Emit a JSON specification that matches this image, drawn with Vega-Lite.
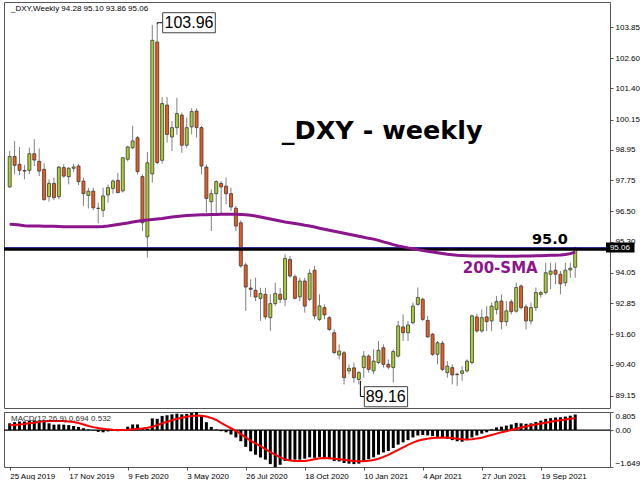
{
"$schema":"https://vega.github.io/schema/vega-lite/v6.json",
"padding":{"left":2,"top":1,"right":0,"bottom":0},
"background":"white",
"spacing":1,
"config":{"view":{"stroke":"#555","strokeWidth":1},"axis":{"labelFont":"Liberation Sans","labelFontSize":8,"labelColor":"#000","tickColor":"#555","grid":false,"domain":false}},
"datasets":{"bars":[
{"d":"2019-08-25","o":97.48,"h":98.91,"l":97.45,"c":98.69,"sma":95.99,"hist":0.30,"sig":0.21},
{"d":"2019-09-01","o":98.69,"h":99.31,"l":97.98,"c":98.34,"sma":95.98,"hist":0.35,"sig":0.23},
{"d":"2019-09-08","o":98.38,"h":99.07,"l":97.95,"c":98.14,"sma":95.96,"hist":0.38,"sig":0.25},
{"d":"2019-09-15","o":98.13,"h":98.35,"l":97.78,"c":98.11,"sma":95.93,"hist":0.38,"sig":0.27},
{"d":"2019-09-22","o":98.14,"h":99.04,"l":97.98,"c":98.80,"sma":95.92,"hist":0.42,"sig":0.30},
{"d":"2019-09-29","o":98.80,"h":99.38,"l":98.31,"c":98.55,"sma":95.92,"hist":0.43,"sig":0.33},
{"d":"2019-10-06","o":98.50,"h":99.01,"l":97.91,"c":98.11,"sma":95.92,"hist":0.42,"sig":0.37},
{"d":"2019-10-13","o":98.18,"h":98.42,"l":96.92,"c":96.98,"sma":95.91,"hist":0.36,"sig":0.39},
{"d":"2019-10-20","o":97.09,"h":97.78,"l":96.89,"c":97.62,"sma":95.91,"hist":0.30,"sig":0.40},
{"d":"2019-10-27","o":97.62,"h":97.85,"l":96.95,"c":97.05,"sma":95.91,"hist":0.24,"sig":0.40},
{"d":"2019-11-03","o":97.09,"h":98.31,"l":96.99,"c":98.27,"sma":95.90,"hist":0.25,"sig":0.40},
{"d":"2019-11-10","o":98.25,"h":98.38,"l":97.85,"c":97.91,"sma":95.89,"hist":0.24,"sig":0.40},
{"d":"2019-11-17","o":97.89,"h":98.27,"l":97.58,"c":98.22,"sma":95.89,"hist":0.22,"sig":0.38},
{"d":"2019-11-24","o":98.22,"h":98.40,"l":98.08,"c":98.27,"sma":95.89,"hist":0.18,"sig":0.36},
{"d":"2019-12-01","o":98.31,"h":98.40,"l":97.55,"c":97.69,"sma":95.89,"hist":0.14,"sig":0.31},
{"d":"2019-12-08","o":97.71,"h":97.85,"l":96.72,"c":97.21,"sma":95.89,"hist":0.08,"sig":0.25},
{"d":"2019-12-15","o":97.14,"h":97.45,"l":96.62,"c":97.31,"sma":95.89,"hist":0.03,"sig":0.18},
{"d":"2019-12-22","o":97.31,"h":97.45,"l":96.55,"c":96.65,"sma":95.89,"hist":-0.02,"sig":0.13},
{"d":"2019-12-29","o":96.63,"h":96.85,"l":96.03,"c":96.62,"sma":95.89,"hist":-0.08,"sig":0.09},
{"d":"2020-01-05","o":96.55,"h":97.45,"l":96.28,"c":97.12,"sma":95.90,"hist":-0.10,"sig":0.06},
{"d":"2020-01-12","o":97.16,"h":97.58,"l":96.85,"c":97.45,"sma":95.92,"hist":-0.06,"sig":0.03},
{"d":"2020-01-19","o":97.42,"h":97.78,"l":97.21,"c":97.71,"sma":95.95,"hist":-0.04,"sig":0.01},
{"d":"2020-01-26","o":97.74,"h":98.04,"l":97.25,"c":97.25,"sma":95.98,"hist":-0.05,"sig":0.0},
{"d":"2020-02-02","o":97.32,"h":98.67,"l":97.25,"c":98.64,"sma":96.01,"hist":0.04,"sig":0.0},
{"d":"2020-02-09","o":98.58,"h":99.12,"l":98.50,"c":99.07,"sma":96.04,"hist":0.15,"sig":0.01},
{"d":"2020-02-16","o":99.04,"h":99.91,"l":98.98,"c":99.31,"sma":96.08,"hist":0.25,"sig":0.03},
{"d":"2020-02-23","o":99.44,"h":99.51,"l":97.98,"c":98.09,"sma":96.11,"hist":0.25,"sig":0.05},
{"d":"2020-03-01","o":97.89,"h":97.98,"l":95.72,"c":96.05,"sma":96.14,"hist":0.08,"sig":0.07},
{"d":"2020-03-08","o":95.49,"h":98.87,"l":94.66,"c":98.44,"sma":96.16,"hist":0.05,"sig":0.10},
{"d":"2020-03-15","o":98.00,"h":103.93,"l":97.65,"c":103.32,"sma":96.18,"hist":0.52,"sig":0.15},
{"d":"2020-03-22","o":103.25,"h":103.96,"l":98.38,"c":98.45,"sma":96.20,"hist":0.50,"sig":0.22},
{"d":"2020-03-29","o":98.54,"h":101.06,"l":98.41,"c":100.80,"sma":96.22,"hist":0.63,"sig":0.30},
{"d":"2020-04-05","o":100.74,"h":101.06,"l":99.24,"c":99.57,"sma":96.25,"hist":0.66,"sig":0.37},
{"d":"2020-04-12","o":99.47,"h":100.10,"l":98.91,"c":99.84,"sma":96.28,"hist":0.70,"sig":0.44},
{"d":"2020-04-19","o":99.84,"h":101.03,"l":99.55,"c":100.40,"sma":96.30,"hist":0.73,"sig":0.50},
{"d":"2020-04-26","o":100.34,"h":100.44,"l":98.84,"c":99.14,"sma":96.32,"hist":0.70,"sig":0.55},
{"d":"2020-05-03","o":99.14,"h":100.24,"l":99.04,"c":99.84,"sma":96.34,"hist":0.72,"sig":0.59},
{"d":"2020-05-10","o":99.87,"h":100.61,"l":99.57,"c":100.48,"sma":96.35,"hist":0.77,"sig":0.63},
{"d":"2020-05-17","o":100.50,"h":100.61,"l":99.44,"c":99.84,"sma":96.36,"hist":0.805,"sig":0.65},
{"d":"2020-05-24","o":99.84,"h":99.91,"l":97.98,"c":98.31,"sma":96.37,"hist":0.62,"sig":0.64},
{"d":"2020-05-31","o":98.27,"h":98.38,"l":96.45,"c":97.02,"sma":96.37,"hist":0.35,"sig":0.60},
{"d":"2020-06-07","o":96.89,"h":97.38,"l":95.72,"c":97.21,"sma":96.38,"hist":0.14,"sig":0.54},
{"d":"2020-06-14","o":97.21,"h":97.74,"l":96.41,"c":97.69,"sma":96.38,"hist":0.03,"sig":0.45},
{"d":"2020-06-21","o":97.62,"h":97.71,"l":96.39,"c":97.48,"sma":96.39,"hist":-0.05,"sig":0.32},
{"d":"2020-06-28","o":97.51,"h":97.85,"l":96.79,"c":97.21,"sma":96.39,"hist":-0.10,"sig":0.20},
{"d":"2020-07-05","o":97.21,"h":97.45,"l":96.52,"c":96.68,"sma":96.39,"hist":-0.20,"sig":0.08},
{"d":"2020-07-12","o":96.63,"h":96.72,"l":95.72,"c":95.92,"sma":96.39,"hist":-0.33,"sig":-0.04},
{"d":"2020-07-19","o":96.05,"h":96.15,"l":94.26,"c":94.33,"sma":96.38,"hist":-0.50,"sig":-0.18},
{"d":"2020-07-26","o":94.37,"h":94.46,"l":92.54,"c":93.49,"sma":96.37,"hist":-0.75,"sig":-0.33},
{"d":"2020-08-02","o":93.45,"h":93.80,"l":93.10,"c":93.40,"sma":96.35,"hist":-0.95,"sig":-0.48},
{"d":"2020-08-09","o":93.36,"h":93.86,"l":92.93,"c":93.09,"sma":96.32,"hist":-1.10,"sig":-0.60},
{"d":"2020-08-16","o":93.04,"h":93.46,"l":92.14,"c":93.23,"sma":96.28,"hist":-1.22,"sig":-0.72},
{"d":"2020-08-23","o":93.20,"h":93.46,"l":92.20,"c":92.30,"sma":96.24,"hist":-1.32,"sig":-0.85},
{"d":"2020-08-30","o":92.27,"h":93.20,"l":91.74,"c":92.83,"sma":96.20,"hist":-1.52,"sig":-0.98},
{"d":"2020-09-06","o":92.83,"h":93.66,"l":92.74,"c":93.23,"sma":96.16,"hist":-1.649,"sig":-1.10},
{"d":"2020-09-13","o":93.20,"h":93.45,"l":92.85,"c":93.00,"sma":96.12,"hist":-1.55,"sig":-1.22},
{"d":"2020-09-20","o":93.00,"h":94.79,"l":92.73,"c":94.63,"sma":96.08,"hist":-1.38,"sig":-1.31},
{"d":"2020-09-27","o":94.59,"h":94.73,"l":93.86,"c":93.93,"sma":96.05,"hist":-1.35,"sig":-1.36},
{"d":"2020-10-04","o":93.90,"h":93.99,"l":93.00,"c":93.04,"sma":96.02,"hist":-1.32,"sig":-1.38},
{"d":"2020-10-11","o":93.10,"h":93.86,"l":92.93,"c":93.73,"sma":95.99,"hist":-1.32,"sig":-1.38},
{"d":"2020-10-18","o":93.73,"h":93.86,"l":92.47,"c":92.73,"sma":95.95,"hist":-1.28,"sig":-1.38},
{"d":"2020-10-25","o":93.00,"h":94.20,"l":92.93,"c":94.04,"sma":95.92,"hist":-1.22,"sig":-1.35},
{"d":"2020-11-01","o":94.16,"h":94.33,"l":92.20,"c":92.34,"sma":95.88,"hist":-1.24,"sig":-1.30},
{"d":"2020-11-08","o":92.20,"h":93.20,"l":92.14,"c":92.74,"sma":95.83,"hist":-1.20,"sig":-1.26},
{"d":"2020-11-15","o":92.67,"h":92.80,"l":92.20,"c":92.38,"sma":95.79,"hist":-1.24,"sig":-1.25},
{"d":"2020-11-22","o":92.27,"h":92.34,"l":91.74,"c":91.80,"sma":95.75,"hist":-1.30,"sig":-1.26},
{"d":"2020-11-29","o":91.67,"h":91.80,"l":90.81,"c":90.88,"sma":95.71,"hist":-1.38,"sig":-1.28},
{"d":"2020-12-06","o":90.78,"h":91.21,"l":90.61,"c":90.94,"sma":95.67,"hist":-1.40,"sig":-1.30},
{"d":"2020-12-13","o":90.87,"h":90.94,"l":89.61,"c":89.88,"sma":95.63,"hist":-1.47,"sig":-1.33},
{"d":"2020-12-20","o":90.15,"h":90.41,"l":90.01,"c":90.25,"sma":95.59,"hist":-1.50,"sig":-1.36},
{"d":"2020-12-27","o":90.27,"h":90.48,"l":89.68,"c":89.88,"sma":95.55,"hist":-1.52,"sig":-1.38},
{"d":"2021-01-03","o":89.81,"h":90.14,"l":89.61,"c":90.08,"sma":95.51,"hist":-1.50,"sig":-1.39},
{"d":"2021-01-10","o":90.28,"h":90.94,"l":89.88,"c":90.74,"sma":95.47,"hist":-1.38,"sig":-1.39},
{"d":"2021-01-17","o":90.74,"h":90.81,"l":90.08,"c":90.21,"sma":95.43,"hist":-1.30,"sig":-1.37},
{"d":"2021-01-24","o":90.15,"h":91.01,"l":90.01,"c":90.54,"sma":95.40,"hist":-1.22,"sig":-1.34},
{"d":"2021-01-31","o":90.48,"h":91.34,"l":90.41,"c":90.97,"sma":95.35,"hist":-1.10,"sig":-1.28},
{"d":"2021-02-07","o":91.07,"h":91.21,"l":90.28,"c":90.41,"sma":95.29,"hist":-1.00,"sig":-1.20},
{"d":"2021-02-14","o":90.41,"h":90.61,"l":90.21,"c":90.30,"sma":95.24,"hist":-0.93,"sig":-1.11},
{"d":"2021-02-21","o":90.28,"h":91.01,"l":89.68,"c":90.92,"sma":95.18,"hist":-0.80,"sig":-1.00},
{"d":"2021-02-28","o":90.74,"h":92.14,"l":90.68,"c":91.94,"sma":95.13,"hist":-0.65,"sig":-0.88},
{"d":"2021-03-07","o":91.90,"h":92.40,"l":91.34,"c":91.67,"sma":95.09,"hist":-0.55,"sig":-0.77},
{"d":"2021-03-14","o":91.67,"h":92.14,"l":91.34,"c":91.98,"sma":95.05,"hist":-0.45,"sig":-0.66},
{"d":"2021-03-21","o":92.07,"h":92.87,"l":92.00,"c":92.73,"sma":95.02,"hist":-0.33,"sig":-0.56},
{"d":"2021-03-28","o":92.80,"h":93.47,"l":92.73,"c":93.07,"sma":94.98,"hist":-0.24,"sig":-0.48},
{"d":"2021-04-04","o":93.00,"h":93.07,"l":92.14,"c":92.20,"sma":94.95,"hist":-0.22,"sig":-0.42},
{"d":"2021-04-11","o":92.16,"h":92.34,"l":91.47,"c":91.50,"sma":94.92,"hist":-0.24,"sig":-0.39},
{"d":"2021-04-18","o":91.61,"h":91.67,"l":90.74,"c":90.81,"sma":94.89,"hist":-0.27,"sig":-0.36},
{"d":"2021-04-25","o":90.81,"h":91.34,"l":90.41,"c":91.27,"sma":94.86,"hist":-0.30,"sig":-0.34},
{"d":"2021-05-02","o":91.25,"h":91.34,"l":90.14,"c":90.21,"sma":94.83,"hist":-0.35,"sig":-0.33},
{"d":"2021-05-09","o":90.08,"h":90.54,"l":89.88,"c":90.34,"sma":94.80,"hist":-0.40,"sig":-0.34},
{"d":"2021-05-16","o":90.28,"h":90.41,"l":89.61,"c":89.99,"sma":94.78,"hist":-0.45,"sig":-0.36},
{"d":"2021-05-23","o":90.00,"h":90.08,"l":89.55,"c":90.02,"sma":94.76,"hist":-0.50,"sig":-0.39},
{"d":"2021-05-30","o":90.05,"h":90.34,"l":89.75,"c":90.15,"sma":94.75,"hist":-0.52,"sig":-0.41},
{"d":"2021-06-06","o":90.15,"h":90.61,"l":90.08,"c":90.54,"sma":94.74,"hist":-0.45,"sig":-0.42},
{"d":"2021-06-13","o":90.48,"h":92.40,"l":90.41,"c":92.34,"sma":94.73,"hist":-0.33,"sig":-0.41},
{"d":"2021-06-20","o":92.30,"h":92.43,"l":91.67,"c":91.74,"sma":94.73,"hist":-0.24,"sig":-0.38},
{"d":"2021-06-27","o":91.74,"h":92.60,"l":91.67,"c":92.27,"sma":94.73,"hist":-0.16,"sig":-0.34},
{"d":"2021-07-04","o":92.30,"h":92.73,"l":91.74,"c":92.11,"sma":94.73,"hist":-0.10,"sig":-0.28},
{"d":"2021-07-11","o":92.14,"h":92.87,"l":91.74,"c":92.73,"sma":94.73,"hist":0.03,"sig":-0.22},
{"d":"2021-07-18","o":92.60,"h":93.13,"l":92.40,"c":92.91,"sma":94.72,"hist":0.12,"sig":-0.16},
{"d":"2021-07-25","o":92.93,"h":93.20,"l":91.80,"c":92.11,"sma":94.72,"hist":0.15,"sig":-0.10},
{"d":"2021-08-01","o":92.11,"h":92.93,"l":91.94,"c":92.54,"sma":94.72,"hist":0.20,"sig":-0.05},
{"d":"2021-08-08","o":92.90,"h":93.00,"l":92.40,"c":92.51,"sma":94.72,"hist":0.25,"sig":0.0},
{"d":"2021-08-15","o":92.53,"h":93.67,"l":92.47,"c":93.47,"sma":94.72,"hist":0.32,"sig":0.06},
{"d":"2021-08-22","o":93.53,"h":93.60,"l":92.60,"c":92.67,"sma":94.73,"hist":0.30,"sig":0.11},
{"d":"2021-08-29","o":92.70,"h":92.80,"l":91.80,"c":92.14,"sma":94.73,"hist":0.28,"sig":0.16},
{"d":"2021-09-05","o":92.14,"h":92.87,"l":92.00,"c":92.67,"sma":94.73,"hist":0.30,"sig":0.21},
{"d":"2021-09-12","o":92.67,"h":93.47,"l":92.54,"c":93.27,"sma":94.74,"hist":0.36,"sig":0.25},
{"d":"2021-09-19","o":93.20,"h":93.34,"l":93.07,"c":93.27,"sma":94.74,"hist":0.42,"sig":0.29},
{"d":"2021-09-26","o":93.27,"h":94.46,"l":93.20,"c":94.06,"sma":94.75,"hist":0.50,"sig":0.33},
{"d":"2021-10-03","o":94.00,"h":94.46,"l":93.40,"c":94.13,"sma":94.76,"hist":0.53,"sig":0.37},
{"d":"2021-10-10","o":94.16,"h":94.46,"l":93.60,"c":94.00,"sma":94.76,"hist":0.56,"sig":0.41},
{"d":"2021-10-17","o":94.00,"h":94.13,"l":93.20,"c":93.62,"sma":94.77,"hist":0.57,"sig":0.44},
{"d":"2021-10-24","o":93.66,"h":94.46,"l":93.53,"c":94.16,"sma":94.79,"hist":0.60,"sig":0.47},
{"d":"2021-10-31","o":94.17,"h":94.46,"l":93.86,"c":94.24,"sma":94.82,"hist":0.64,"sig":0.50},
{"d":"2021-11-07","o":94.28,"h":95.10,"l":93.86,"c":95.06,"sma":94.88,"hist":0.694,"sig":0.532}
]},
"vconcat":[
{
"width":606,"height":406,
"layer":[
{"data":{"name":"bars"},"mark":{"type":"rule","color":"#808080","strokeWidth":1},
 "encoding":{
  "x":{"field":"d","type":"temporal","title":null,"axis":null,"scale":{"type":"utc","nice":false,"domain":[{"year":2019,"month":8,"date":24,"hours":0,"minutes":29,"utc":true},{"year":2021,"month":12,"date":19,"hours":10,"minutes":5,"utc":true}]}},
  "y":{"field":"l","type":"quantitative","title":null,"scale":{"nice":false,"zero":false,"domain":[88.671,104.846]},
   "axis":{"orient":"right","values":[103.85,102.6,101.4,100.15,98.95,97.75,96.5,95.3,94.05,92.85,91.6,90.4,89.15],"format":".2f","tickSize":3,"labelPadding":2,"title":null}},
  "y2":{"field":"h"}}},
{"data":{"name":"bars"},"mark":{"type":"bar","size":3,"stroke":"#3a3a3a","strokeWidth":0.8},
 "encoding":{
  "x":{"field":"d","type":"temporal","title":null,"axis":null},
  "y":{"field":"o","type":"quantitative","title":null,"axis":{"orient":"right","values":[103.85,102.6,101.4,100.15,98.95,97.75,96.5,95.3,94.05,92.85,91.6,90.4,89.15],"format":".2f","tickSize":3,"labelPadding":2,"title":null}},
  "y2":{"field":"c"},
  "color":{"condition":{"test":"datum.c >= datum.o","value":"#a8cf2e"},"value":"#ee5a1a"}}},
{"data":{"values":[{"lv":95.0}]},"mark":{"type":"rule","color":"#000","strokeWidth":3},
 "encoding":{"y":{"field":"lv","type":"quantitative","title":null,"axis":{"orient":"right","values":[103.85,102.6,101.4,100.15,98.95,97.75,96.5,95.3,94.05,92.85,91.6,90.4,89.15],"format":".2f","tickSize":3,"labelPadding":2,"title":null}}}},
{"data":{"values":[{"lv":95.06}]},"mark":{"type":"rule","color":"#1a1a8c","strokeWidth":1},
 "encoding":{"y":{"field":"lv","type":"quantitative","title":null,"axis":{"orient":"right","values":[103.85,102.6,101.4,100.15,98.95,97.75,96.5,95.3,94.05,92.85,91.6,90.4,89.15],"format":".2f","tickSize":3,"labelPadding":2,"title":null}}}},
{"data":{"name":"bars"},"mark":{"type":"line","color":"#8b158b","strokeWidth":3},
 "encoding":{
  "x":{"field":"d","type":"temporal","title":null,"axis":null},
  "y":{"field":"sma","type":"quantitative","title":null,"axis":{"orient":"right","values":[103.85,102.6,101.4,100.15,98.95,97.75,96.5,95.3,94.05,92.85,91.6,90.4,89.15],"format":".2f","tickSize":3,"labelPadding":2,"title":null}}}},
{"data":{"values":[
  {"d":"2020-03-22T00:00:00Z","p":103.96,"s":0,"g":"hi"},
  {"d":"2020-03-22T00:00:00Z","p":104.02,"s":1,"g":"hi"},
  {"d":"2020-03-29T19:00:00Z","p":104.02,"s":2,"g":"hi"},
  {"d":"2021-01-05T05:00:00Z","p":89.75,"s":0,"g":"lo"},
  {"d":"2021-01-05T05:00:00Z","p":89.13,"s":1,"g":"lo"},
  {"d":"2021-01-10T19:00:00Z","p":89.13,"s":2,"g":"lo"}]},
 "mark":{"type":"line","color":"#000","strokeWidth":1},
 "encoding":{
  "x":{"field":"d","type":"temporal","title":null,"axis":null},
  "y":{"field":"p","type":"quantitative","title":null,"axis":{"orient":"right","values":[103.85,102.6,101.4,100.15,98.95,97.75,96.5,95.3,94.05,92.85,91.6,90.4,89.15],"format":".2f","tickSize":3,"labelPadding":2,"title":null}},
  "detail":{"field":"g"},"order":{"field":"s","type":"quantitative"}}},
{"data":{"values":[
  {"d":"2020-03-29T19:00:00Z","d2":"2020-06-12T17:00:00Z","p":103.62,"p2":104.42},
  {"d":"2021-01-10T19:00:00Z","d2":"2021-03-13T10:00:00Z","p":88.72,"p2":89.52}]},
 "mark":{"type":"rect","fill":"white","stroke":"#404040","strokeWidth":1},
 "encoding":{
  "x":{"field":"d","type":"temporal","title":null,"axis":null},"x2":{"field":"d2"},
  "y":{"field":"p","type":"quantitative","title":null,"axis":{"orient":"right","values":[103.85,102.6,101.4,100.15,98.95,97.75,96.5,95.3,94.05,92.85,91.6,90.4,89.15],"format":".2f","tickSize":3,"labelPadding":2,"title":null}},"y2":{"field":"p2"}}},
{"data":{"values":[
  {"d":"2020-05-06T05:00:00Z","p":103.80,"t":"103.96"},
  {"d":"2021-02-10T05:00:00Z","p":88.91,"t":"89.16"}]},
 "mark":{"type":"text","font":"Liberation Sans","fontSize":16,"align":"center","baseline":"alphabetic","color":"#000"},
 "encoding":{
  "x":{"field":"d","type":"temporal","title":null,"axis":null},
  "y":{"field":"p","type":"quantitative","title":null,"axis":{"orient":"right","values":[103.85,102.6,101.4,100.15,98.95,97.75,96.5,95.3,94.05,92.85,91.6,90.4,89.15],"format":".2f","tickSize":3,"labelPadding":2,"title":null}},
  "text":{"field":"t"}}},
{"data":{"values":[{"d":"2021-02-05T07:00:00Z","p":99.376,"t":"_DXY - weekly"}]},
 "mark":{"type":"text","font":"DejaVu Sans","fontWeight":"bold","fontSize":25.5,"align":"center","baseline":"alphabetic","color":"#000"},
 "encoding":{
  "x":{"field":"d","type":"temporal","title":null,"axis":null},
  "y":{"field":"p","type":"quantitative","title":null,"axis":{"orient":"right","values":[103.85,102.6,101.4,100.15,98.95,97.75,96.5,95.3,94.05,92.85,91.6,90.4,89.15],"format":".2f","tickSize":3,"labelPadding":2,"title":null}},
  "text":{"field":"t"}}},
{"data":{"values":[{"d":"2021-10-02T00:00:00Z","p":95.205,"t":"95.0"}]},
 "mark":{"type":"text","font":"DejaVu Sans","fontWeight":"bold","fontSize":14.5,"align":"center","baseline":"alphabetic","color":"#000"},
 "encoding":{
  "x":{"field":"d","type":"temporal","title":null,"axis":null},
  "y":{"field":"p","type":"quantitative","title":null,"axis":{"orient":"right","values":[103.85,102.6,101.4,100.15,98.95,97.75,96.5,95.3,94.05,92.85,91.6,90.4,89.15],"format":".2f","tickSize":3,"labelPadding":2,"title":null}},
  "text":{"field":"t"}}},
{"data":{"values":[{"d":"2021-07-23T07:00:00Z","p":94.061,"t":"200-SMA"}]},
 "mark":{"type":"text","font":"DejaVu Sans","fontWeight":"bold","fontSize":15,"align":"center","baseline":"alphabetic","color":"#8b158b"},
 "encoding":{
  "x":{"field":"d","type":"temporal","title":null,"axis":null},
  "y":{"field":"p","type":"quantitative","title":null,"axis":{"orient":"right","values":[103.85,102.6,101.4,100.15,98.95,97.75,96.5,95.3,94.05,92.85,91.6,90.4,89.15],"format":".2f","tickSize":3,"labelPadding":2,"title":null}},
  "text":{"field":"t"}}},
{"data":{"values":[{"d":"2019-08-26T19:40:00Z","p":104.567,"t":"_DXY,Weekly  94.28 95.10 93.86 95.06"}]},
 "mark":{"type":"text","font":"Liberation Sans","fontSize":8,"align":"left","baseline":"middle","color":"#000"},
 "encoding":{
  "x":{"field":"d","type":"temporal","title":null,"axis":null},
  "y":{"field":"p","type":"quantitative","title":null,"axis":{"orient":"right","values":[103.85,102.6,101.4,100.15,98.95,97.75,96.5,95.3,94.05,92.85,91.6,90.4,89.15],"format":".2f","tickSize":3,"labelPadding":2,"title":null}},
  "text":{"field":"t"}}},
{"data":{"values":[{"d":"2021-12-20T19:00:00Z","d2":"2022-01-30T10:00:00Z","p":94.866,"p2":95.264}]},
 "mark":{"type":"rect","fill":"#000"},
 "encoding":{
  "x":{"field":"d","type":"temporal","title":null,"axis":null},"x2":{"field":"d2"},
  "y":{"field":"p","type":"quantitative","title":null,"axis":{"orient":"right","values":[103.85,102.6,101.4,100.15,98.95,97.75,96.5,95.3,94.05,92.85,91.6,90.4,89.15],"format":".2f","tickSize":3,"labelPadding":2,"title":null}},"y2":{"field":"p2"}}},
{"data":{"values":[{"d":"2021-12-26T10:00:00Z","p":95.06,"t":"95.06"}]},
 "mark":{"type":"text","font":"Liberation Sans","fontSize":8,"align":"left","baseline":"middle","color":"#fff"},
 "encoding":{
  "x":{"field":"d","type":"temporal","title":null,"axis":null},
  "y":{"field":"p","type":"quantitative","title":null,"axis":{"orient":"right","values":[103.85,102.6,101.4,100.15,98.95,97.75,96.5,95.3,94.05,92.85,91.6,90.4,89.15],"format":".2f","tickSize":3,"labelPadding":2,"title":null}},
  "text":{"field":"t"}}}
]
},
{
"width":606,"height":55,
"layer":[
{"data":{"name":"bars"},"mark":{"type":"bar","size":3,"color":"#000"},
 "encoding":{
  "x":{"field":"d","type":"temporal","title":null,
   "scale":{"type":"utc","nice":false,"domain":[{"year":2019,"month":8,"date":24,"hours":0,"minutes":29,"utc":true},{"year":2021,"month":12,"date":19,"hours":10,"minutes":5,"utc":true}]},
   "axis":{"values":[{"year":2019,"month":8,"date":25,"utc":true},{"year":2019,"month":11,"date":17,"utc":true},{"year":2020,"month":2,"date":9,"utc":true},{"year":2020,"month":5,"date":3,"utc":true},{"year":2020,"month":7,"date":26,"utc":true},{"year":2020,"month":10,"date":18,"utc":true},{"year":2021,"month":1,"date":10,"utc":true},{"year":2021,"month":4,"date":4,"utc":true},{"year":2021,"month":6,"date":27,"utc":true},{"year":2021,"month":9,"date":19,"utc":true}],"format":"%-d %b %Y","labelAlign":"left","tickSize":3,"labelPadding":2,"labelFlush":false,"labelOverlap":false,"title":null}},
  "y":{"field":"hist","type":"quantitative","title":null,"scale":{"nice":false,"zero":false,"domain":[-1.649,0.805]},
   "axis":{"orient":"right","values":[0.805,0,-1.649],"labelExpr":"datum.value == 0 ? '0.00' : format(datum.value, '.3f')","labelFlush":true,"tickSize":3,"labelPadding":2,"title":null}},
  "y2":{"datum":0}}},
{"data":{"values":[{"z":0}]},"mark":{"type":"rule","color":"#000","strokeWidth":1.3},
 "encoding":{"y":{"field":"z","type":"quantitative","title":null,"axis":{"orient":"right","values":[0.805,0,-1.649],"labelExpr":"datum.value == 0 ? '0.00' : format(datum.value, '.3f')","labelFlush":true,"tickSize":3,"labelPadding":2,"title":null}}}},
{"data":{"name":"bars"},"mark":{"type":"line","color":"#ff0000","strokeWidth":2},
 "encoding":{
  "x":{"field":"d","type":"temporal","title":null,"axis":{"values":[{"year":2019,"month":8,"date":25,"utc":true},{"year":2019,"month":11,"date":17,"utc":true},{"year":2020,"month":2,"date":9,"utc":true},{"year":2020,"month":5,"date":3,"utc":true},{"year":2020,"month":7,"date":26,"utc":true},{"year":2020,"month":10,"date":18,"utc":true},{"year":2021,"month":1,"date":10,"utc":true},{"year":2021,"month":4,"date":4,"utc":true},{"year":2021,"month":6,"date":27,"utc":true},{"year":2021,"month":9,"date":19,"utc":true}],"format":"%-d %b %Y","labelAlign":"left","tickSize":3,"labelPadding":2,"labelFlush":false,"labelOverlap":false,"title":null}},
  "y":{"field":"sig","type":"quantitative","title":null,"axis":{"orient":"right","values":[0.805,0,-1.649],"labelExpr":"datum.value == 0 ? '0.00' : format(datum.value, '.3f')","labelFlush":true,"tickSize":3,"labelPadding":2,"title":null}}}},
{"data":{"values":[{"d":"2019-08-26T19:40:00Z","v":0.49,"t":"MACD(12,26,9) 0.694 0.532"}]},
 "mark":{"type":"text","font":"Liberation Sans","fontSize":8,"align":"left","baseline":"middle","color":"#303030"},
 "encoding":{
  "x":{"field":"d","type":"temporal","title":null,"axis":{"values":[{"year":2019,"month":8,"date":25,"utc":true},{"year":2019,"month":11,"date":17,"utc":true},{"year":2020,"month":2,"date":9,"utc":true},{"year":2020,"month":5,"date":3,"utc":true},{"year":2020,"month":7,"date":26,"utc":true},{"year":2020,"month":10,"date":18,"utc":true},{"year":2021,"month":1,"date":10,"utc":true},{"year":2021,"month":4,"date":4,"utc":true},{"year":2021,"month":6,"date":27,"utc":true},{"year":2021,"month":9,"date":19,"utc":true}],"format":"%-d %b %Y","labelAlign":"left","tickSize":3,"labelPadding":2,"labelFlush":false,"labelOverlap":false,"title":null}},
  "y":{"field":"v","type":"quantitative","title":null,"axis":{"orient":"right","values":[0.805,0,-1.649],"labelExpr":"datum.value == 0 ? '0.00' : format(datum.value, '.3f')","labelFlush":true,"tickSize":3,"labelPadding":2,"title":null}},
  "text":{"field":"t"}}}
]
}
]
}
